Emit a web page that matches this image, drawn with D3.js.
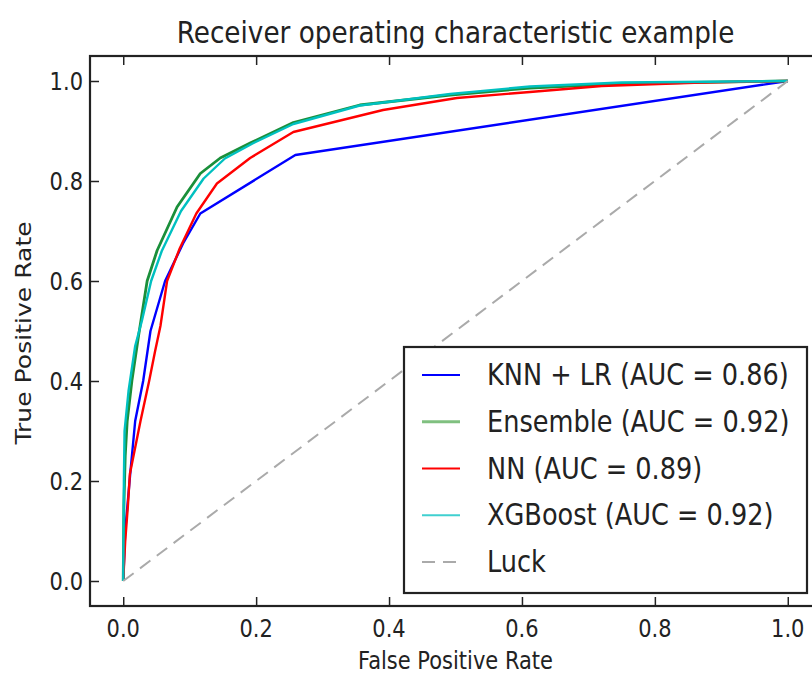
<!DOCTYPE html>
<html><head><meta charset="utf-8">
<script src="https://cdn.jsdelivr.net/npm/d3@7"></script>
<style>
html,body{margin:0;padding:0;background:#fff;overflow:hidden;}
text{font-family:"DejaVu Sans",sans-serif;fill:#222;}
</style></head>
<body>
<svg id="c" width="812" height="673"></svg>
<script>
const title = "Receiver operating characteristic example";
const xLabel = "False Positive Rate";
const yLabel = "True Positive Rate";
const tickValues = [0.0, 0.2, 0.4, 0.6, 0.8, 1.0];
const tickLabels = ["0.0", "0.2", "0.4", "0.6", "0.8", "1.0"];

const seriesNames = ["KNN + LR (AUC = 0.86)", "Ensemble (AUC = 0.92)", "NN (AUC = 0.89)", "XGBoost (AUC = 0.92)", "Luck"];
const seriesColors = ["#0000ff", "#1a8f3a", "#ff0000", "#00c0c0", "#aaaaaa"];
const legendColors = ["#0000ff", "#80c080", "#ff0000", "#40d0d0", "#aaaaaa"];

const knnFpr = [0, 0.003, 0.0105, 0.018, 0.030, 0.041, 0.063, 0.09, 0.116, 0.259, 1];
const knnTpr = [0, 0.10, 0.214, 0.32, 0.40, 0.50, 0.60, 0.675, 0.735, 0.852, 1];

const ensFpr = [0, 0.001, 0.003, 0.006, 0.013, 0.023, 0.036, 0.051, 0.081, 0.116, 0.146, 0.191, 0.256, 0.356, 0.492, 0.612, 0.75, 1];
const ensTpr = [0, 0.15, 0.25, 0.32, 0.40, 0.49, 0.60, 0.661, 0.748, 0.815, 0.846, 0.876, 0.917, 0.952, 0.972, 0.986, 0.995, 1];

const nnFpr = [0, 0.003, 0.007, 0.010, 0.026, 0.039, 0.048, 0.056, 0.066, 0.085, 0.11, 0.141, 0.191, 0.256, 0.391, 0.502, 0.612, 0.72, 0.87, 1];
const nnTpr = [0, 0.08, 0.15, 0.214, 0.32, 0.40, 0.46, 0.51, 0.60, 0.665, 0.735, 0.795, 0.846, 0.898, 0.942, 0.966, 0.978, 0.99, 0.997, 1];

const xgbFpr = [0, 0.001, 0.002, 0.008, 0.018, 0.028, 0.042, 0.058, 0.087, 0.121, 0.153, 0.196, 0.256, 0.356, 0.492, 0.612, 0.75, 1];
const xgbTpr = [0, 0.20, 0.30, 0.38, 0.47, 0.52, 0.60, 0.66, 0.74, 0.805, 0.845, 0.876, 0.914, 0.951, 0.974, 0.989, 0.997, 1];

const luckFpr = [0, 1];
const luckTpr = [0, 1];

const svg = d3.select("#c");
const L = 90, R = 821, T = 56, B = 606;
const x = d3.scaleLinear().domain([-0.05, 1.05]).range([L, R]);
const y = d3.scaleLinear().domain([-0.05, 1.05]).range([B, T]);
const SY = 1.15; // vertical stretch of glyphs seen in the reference

function label(parent, tx, ty, str, size, anchor, rot) {
  const t = `translate(${tx},${ty})` + (rot ? ` rotate(${rot})` : "") + (rot ? ` scale(${SY},1)` : ` scale(1,${SY})`);
  return parent.append("text").attr("transform", t).attr("text-anchor", anchor || "start")
    .attr("font-size", size).text(str);
}

const series = [
  {fpr: knnFpr, tpr: knnTpr},
  {fpr: ensFpr, tpr: ensTpr},
  {fpr: nnFpr, tpr: nnTpr},
  {fpr: xgbFpr, tpr: xgbTpr},
  {fpr: luckFpr, tpr: luckTpr}
];
const widths = [2.4, 2.8, 2.4, 2.4, 2];

const line = d3.line().x(d => x(d[0])).y(d => y(d[1]));
const plot = svg.append("g");
series.forEach((s, i) => {
  const pts = s.fpr.map((f, j) => [f, s.tpr[j]]);
  const p = plot.append("path").attr("d", line(pts)).attr("fill", "none")
    .attr("stroke", seriesColors[i]).attr("stroke-width", widths[i])
    .attr("stroke-linejoin", "round");
  if (i === 4) p.attr("stroke-dasharray", "13,8");
});

// spines
const axisColor = "#222";
svg.append("rect").attr("x", L).attr("y", T).attr("width", R - L).attr("height", B - T)
  .attr("fill", "none").attr("stroke", axisColor).attr("stroke-width", 2.2);

// ticks via axes (inward)
const tickLen = 9;
const xb = svg.append("g").attr("transform", `translate(0,${B})`)
  .call(d3.axisTop(x).tickValues(tickValues).tickSize(tickLen).tickFormat(""));
const xt = svg.append("g").attr("transform", `translate(0,${T})`)
  .call(d3.axisBottom(x).tickValues(tickValues).tickSize(tickLen).tickFormat(""));
const yl = svg.append("g").attr("transform", `translate(${L},0)`)
  .call(d3.axisRight(y).tickValues(tickValues).tickSize(tickLen).tickFormat(""));
const yr = svg.append("g").attr("transform", `translate(${R},0)`)
  .call(d3.axisLeft(y).tickValues(tickValues).tickSize(tickLen).tickFormat(""));
[xb, xt, yl, yr].forEach(g => {
  g.select(".domain").remove();
  g.selectAll("line").attr("stroke", axisColor).attr("stroke-width", 1.5);
});

// tick labels
const gx = svg.append("g"), gy = svg.append("g");
tickValues.forEach((d, i) => {
  label(gx, x(d), B + 31, tickLabels[i], 21, "middle");
  label(gy, L - 7, y(d) + 8.8, tickLabels[i], 21, "end");
});

// title & labels
label(svg, (L + R) / 2, 43, title, 26.3, "middle");
label(svg, (L + R) / 2, 669, xLabel, 21, "middle");
label(svg, 31, 333, yLabel, 21.8, "middle", -90);

// legend
const lg = svg.append("g");
lg.append("rect").attr("x", 404).attr("y", 347).attr("width", 403).attr("height", 246)
  .attr("fill", "#fff").attr("stroke", axisColor).attr("stroke-width", 2.2);
const rowY = d3.scaleLinear().domain([0, 4]).range([375, 562]);
seriesNames.forEach((n, i) => {
  const ly = rowY(i);
  const l = lg.append("line").attr("x1", 422).attr("x2", 460).attr("y1", ly).attr("y2", ly)
    .attr("stroke", legendColors[i]).attr("stroke-width", i === 1 ? 3 : 2);
  if (i === 4) l.attr("stroke-dasharray", "13,8");
  label(lg, 487, ly + 10, n, 25.6);
});
</script>
</body></html>
